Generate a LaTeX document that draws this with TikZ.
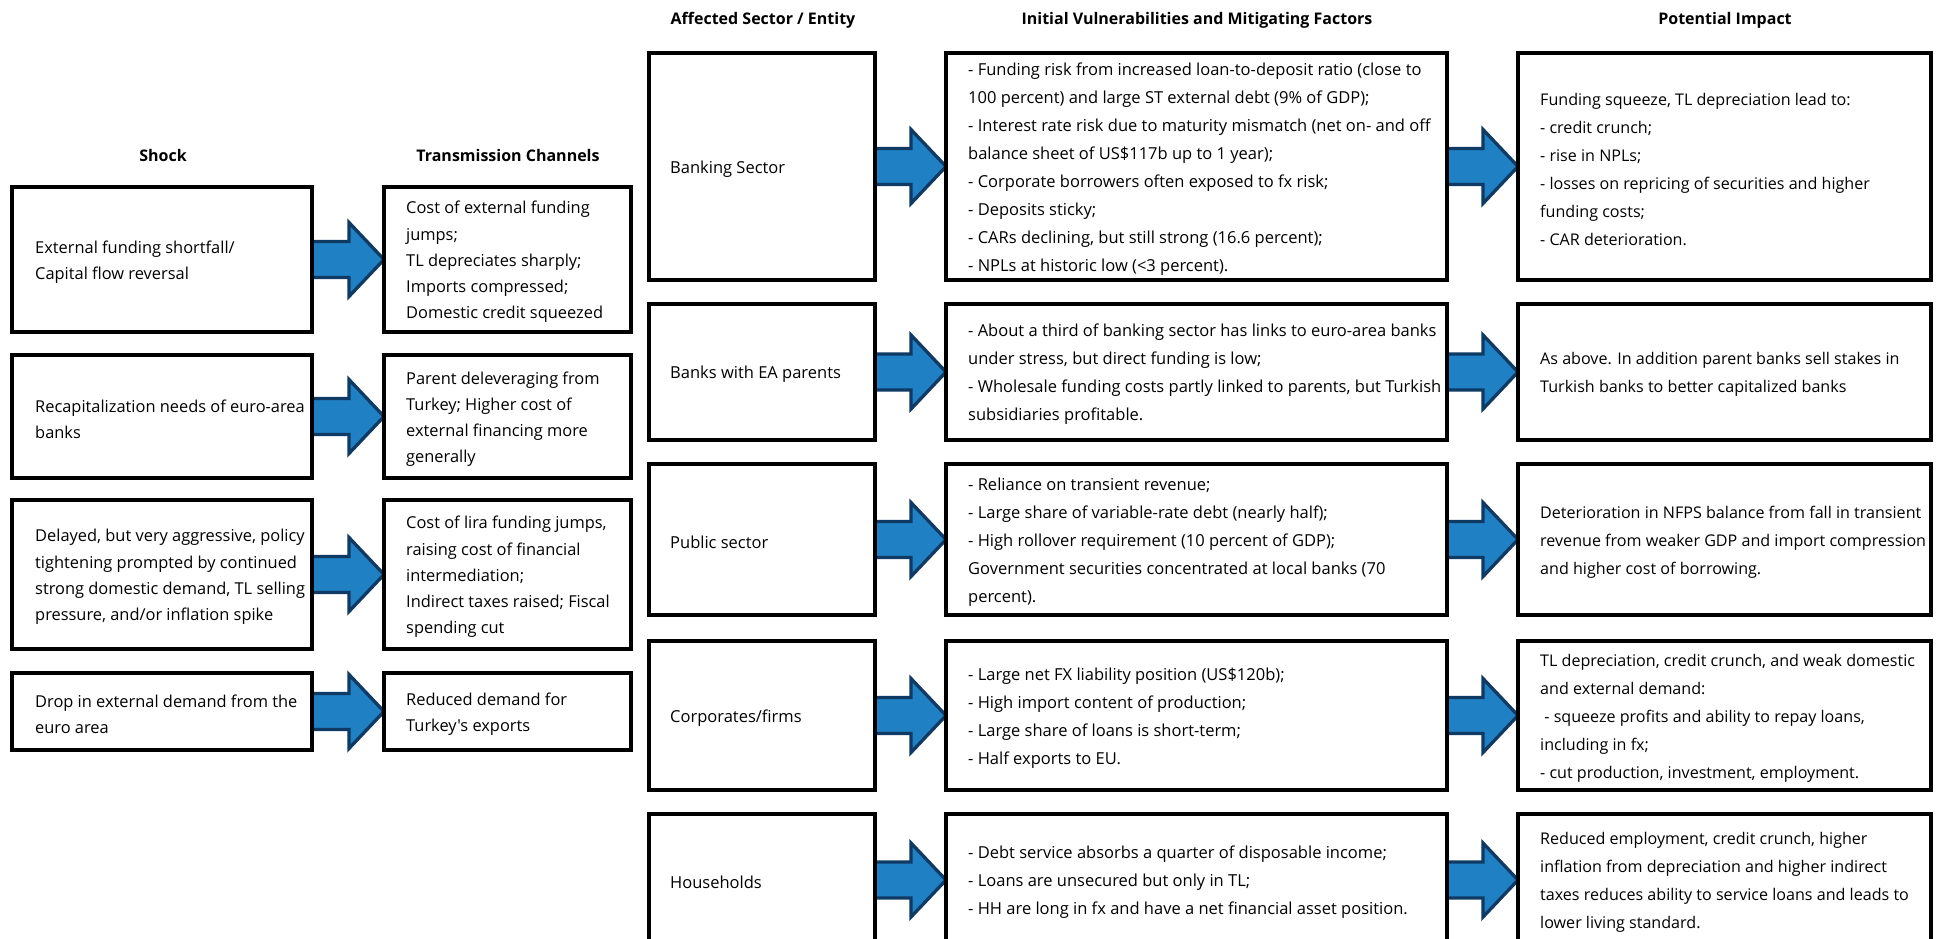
\documentclass[tikz,border=0pt]{standalone}
\usepackage{fontspec}
\setmainfont{Open Sans}[Ligatures=TeXOff]
\usetikzlibrary{calc}
\pgfdeclarelayer{bg}
\pgfsetlayers{bg,main}
\definecolor{arrowfill}{RGB}{32,128,196}
\definecolor{arrowline}{RGB}{14,58,100}
\tikzset{
  box/.style={draw=black, line width=3.2pt, fill=white, inner sep=0pt, outer sep=0pt},
  txt/.style={anchor=west, align=left, inner sep=0pt, yshift=-2.5pt, font=\fontsize{16.1}{28}\selectfont},
  vtxt/.style={txt, font=\fontsize{16.5}{28}\selectfont},
  ltxt/.style={txt, font=\fontsize{16.4}{26.2}\selectfont},
  head/.style={anchor=base, font=\fontsize{16}{19}\selectfont\bfseries, inner sep=0pt},
  barrow/.style={fill=arrowfill, draw=arrowline, line width=3.3pt, line join=miter},
}
\newcommand\blockarrow[2]{%
  \begin{pgfonlayer}{bg}
  \draw[barrow] let \p1=(#1.east), \p2=(#2.west) in
   (\x1-3pt,\y1+18pt) -- (\x2-35pt,\y1+18pt) -- (\x2-35pt,\y1+37pt) -- (\x2,\y1)
   -- (\x2-35pt,\y1-37pt) -- (\x2-35pt,\y1-18pt) -- (\x1-3pt,\y1-18pt) -- cycle;
  \end{pgfonlayer}}
\begin{document}
\begin{tikzpicture}[x=1pt,y=-1pt]
\useasboundingbox (0,0) rectangle (1944,938);
\clip (0,0) rectangle (1944,938);
% headings
\node[head] (h1) at (163,161) {Shock};
\node[head] (h2) at (508,161) {Transmission Channels};
\node[head] (h3) at (763,24) {Affected Sector / Entity};
\node[head] (h4) at (1197,24) {Initial Vulnerabilities and Mitigating Factors};
\node[head] (h5) at (1725,24) {Potential Impact};
% left boxes
\node[box, minimum width=300pt, minimum height=145pt] (s1) at (162,259.5) {};
\node[box, minimum width=300pt, minimum height=123pt] (s2) at (162,416.5) {};
\node[box, minimum width=300pt, minimum height=149pt] (s3) at (162,574.5) {};
\node[box, minimum width=300pt, minimum height=77pt] (s4) at (162,711.5) {};
\node[box, minimum width=247pt, minimum height=145pt] (t1) at (507.5,259.5) {};
\node[box, minimum width=247pt, minimum height=123pt] (t2) at (507.5,416.5) {};
\node[box, minimum width=247pt, minimum height=149pt] (t3) at (507.5,574.5) {};
\node[box, minimum width=247pt, minimum height=77pt] (t4) at (507.5,711.5) {};
\node[ltxt] (s1t) at ([xshift=23pt]s1.west) {External funding shortfall/\\Capital flow reversal};
\node[ltxt] (s2t) at ([xshift=23pt]s2.west) {Recapitalization needs of euro-area\\banks};
\node[ltxt] (s3t) at ([xshift=23pt]s3.west) {Delayed, but very aggressive, policy\\tightening prompted by continued\\strong domestic demand, TL selling\\pressure, and/or inflation spike};
\node[ltxt] (s4t) at ([xshift=23pt]s4.west) {Drop in external demand from the\\euro area};
\node[ltxt] (t1t) at ([xshift=22pt]t1.west) {Cost of external funding\\jumps;\\TL depreciates sharply;\\Imports compressed;\\Domestic credit squeezed};
\node[ltxt] (t2t) at ([xshift=22pt]t2.west) {Parent deleveraging from\\Turkey; Higher cost of\\external financing more\\generally};
\node[ltxt] (t3t) at ([xshift=22pt]t3.west) {Cost of lira funding jumps,\\raising cost of financial\\intermediation;\\Indirect taxes raised; Fiscal\\spending cut};
\node[ltxt] (t4t) at ([xshift=22pt]t4.west) {Reduced demand for\\Turkey's exports};
% right boxes
\node[box, minimum width=226pt, minimum height=227pt] (a1) at (762,166.5) {};
\node[box, minimum width=226pt, minimum height=136pt] (a2) at (762,372) {};
\node[box, minimum width=226pt, minimum height=151pt] (a3) at (762,539.5) {};
\node[box, minimum width=226pt, minimum height=149pt] (a4) at (762,715.5) {};
\node[box, minimum width=226pt, minimum height=132pt] (a5) at (762,880) {};
\node[box, minimum width=501pt, minimum height=227pt] (v1) at (1196.5,166.5) {};
\node[box, minimum width=501pt, minimum height=136pt] (v2) at (1196.5,372) {};
\node[box, minimum width=501pt, minimum height=151pt] (v3) at (1196.5,539.5) {};
\node[box, minimum width=501pt, minimum height=149pt] (v4) at (1196.5,715.5) {};
\node[box, minimum width=501pt, minimum height=132pt] (v5) at (1196.5,880) {};
\node[box, minimum width=413pt, minimum height=227pt] (p1) at (1724.5,166.5) {};
\node[box, minimum width=413pt, minimum height=136pt] (p2) at (1724.5,372) {};
\node[box, minimum width=413pt, minimum height=151pt] (p3) at (1724.5,539.5) {};
\node[box, minimum width=413pt, minimum height=149pt] (p4) at (1724.5,715.5) {};
\node[box, minimum width=413pt, minimum height=132pt] (p5) at (1724.5,880) {};
\node[vtxt] (a1t) at ([xshift=21pt]a1.west) {Banking Sector};
\node[vtxt] (a2t) at ([xshift=21pt]a2.west) {Banks with EA parents};
\node[vtxt] (a3t) at ([xshift=21pt]a3.west) {Public sector};
\node[vtxt] (a4t) at ([xshift=21pt]a4.west) {Corporates/firms};
\node[vtxt] (a5t) at ([xshift=21pt]a5.west) {Households};
\node[vtxt] (v1t) at ([xshift=22pt]v1.west) {- Funding risk from increased loan-to-deposit ratio (close to\\100 percent) and large ST external debt (9\% of GDP);\\- Interest rate risk due to maturity mismatch (net on- and off\\balance sheet of US\$117b up to 1 year);\\- Corporate borrowers often exposed to fx risk;\\- Deposits sticky;\\- CARs declining, but still strong (16.6 percent);\\- NPLs at historic low (<3 percent).};
\node[vtxt] (v2t) at ([xshift=22pt]v2.west) {- About a third of banking sector has links to euro-area banks\\under stress, but direct funding is low;\\- Wholesale funding costs partly linked to parents, but Turkish\\subsidiaries profitable.};
\node[vtxt] (v3t) at ([xshift=22pt]v3.west) {- Reliance on transient revenue;\\- Large share of variable-rate debt (nearly half);\\- High rollover requirement (10 percent of GDP);\\Government securities concentrated at local banks (70\\percent).};
\node[vtxt] (v4t) at ([xshift=22pt]v4.west) {- Large net FX liability position (US\$120b);\\- High import content of production;\\- Large share of loans is short-term;\\- Half exports to EU.};
\node[vtxt] (v5t) at ([xshift=22pt]v5.west) {- Debt service absorbs a quarter of disposable income;\\- Loans are unsecured but only in TL;\\- HH are long in fx and have a net financial asset position.};
\node[txt] (p1t) at ([xshift=22pt]p1.west) {Funding squeeze, TL depreciation lead to:\\- credit crunch;\\- rise in NPLs;\\- losses on repricing of securities and higher\\funding costs;\\- CAR deterioration.};
\node[txt] (p2t) at ([xshift=22pt]p2.west) {As above. In addition parent banks sell stakes in\\Turkish banks to better capitalized banks};
\node[txt] (p3t) at ([xshift=22pt]p3.west) {Deterioration in NFPS balance from fall in transient\\revenue from weaker GDP and import compression\\and higher cost of borrowing.};
\node[txt] (p4t) at ([xshift=22pt]p4.west) {TL depreciation, credit crunch, and weak domestic\\and external demand:\\\ - squeeze profits and ability to repay loans,\\including in fx;\\- cut production, investment, employment.};
\node[txt] (p5t) at ([xshift=22pt]p5.west) {Reduced employment, credit crunch, higher\\inflation from depreciation and higher indirect\\taxes reduces ability to service loans and leads to\\lower living standard.};
% arrows
\blockarrow{s1}{t1}
\blockarrow{s2}{t2}
\blockarrow{s3}{t3}
\blockarrow{s4}{t4}
\blockarrow{a1}{v1}
\blockarrow{a2}{v2}
\blockarrow{a3}{v3}
\blockarrow{a4}{v4}
\blockarrow{a5}{v5}
\blockarrow{v1}{p1}
\blockarrow{v2}{p2}
\blockarrow{v3}{p3}
\blockarrow{v4}{p4}
\blockarrow{v5}{p5}
\end{tikzpicture}
\end{document}
